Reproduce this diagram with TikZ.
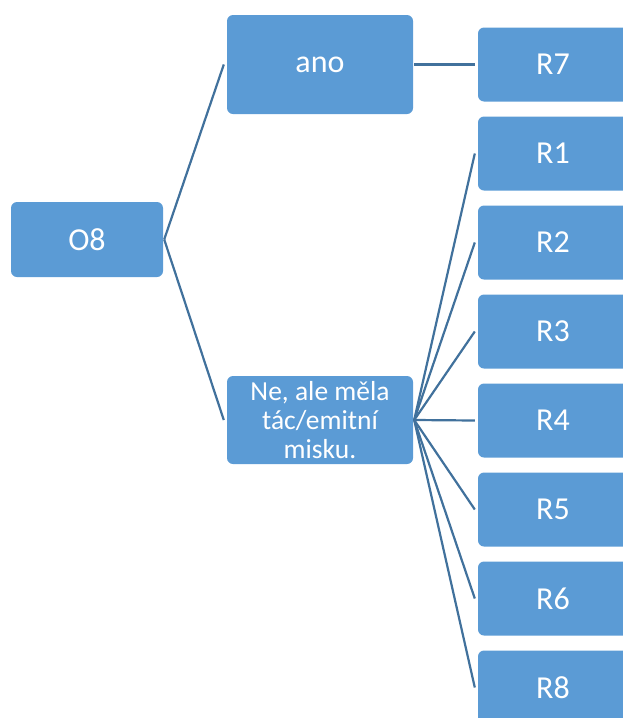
\documentclass[tikz,border=0pt]{standalone}
\usepackage{fontspec}
\setmainfont{Carlito}
\definecolor{boxfill}{HTML}{5B9BD5}
\definecolor{linecol}{HTML}{41719C}
\begin{document}
\begin{tikzpicture}[x=1pt,y=-1pt,
  box/.style={draw=none,fill=boxfill,rounded corners=6pt,inner sep=0pt,text=white,align=center,font=\fontsize{32}{34}\selectfont},
  conn/.style={draw=linecol,line width=2.2pt}]
\useasboundingbox (0,0) rectangle (623,718);
\clip (0,0) rectangle (623,718);
% nodes
\node[box,minimum width=152pt,minimum height=75pt] (o8) at (87,239.5) {O8};
\node[box,minimum width=186pt,minimum height=99pt] (ano) at (320,64.5) {ano};
\node[box,minimum width=186pt,minimum height=88pt,font=\fontsize{27.5}{29}\selectfont] (ne) at (320,420) {Ne, ale měla\\tác/emitní\\misku.};
\foreach \n/\t/\yy in {r7/R7/64.5, r1/R1/153.5, r2/R2/242.5, r3/R3/331.5, r4/R4/420.5, r5/R5/509.5, r6/R6/598.5, r8/R8/687.5}{
  \node[box,minimum width=170pt,minimum height=74pt,text width=150pt] (\n) at (563,\yy) {\hspace*{-20pt}\t};
}
% connectors
\coordinate (anoIn) at ([xshift=-3pt]ano.west);
\coordinate (neIn) at ([xshift=-3pt]ne.west);
\draw[conn] ([xshift=1pt]o8.east) -- (anoIn);
\draw[conn] ([xshift=1pt]o8.east) -- (neIn);
\draw[conn] ([xshift=1pt]ano.east) -- ([xshift=-3pt]r7.west);
\foreach \n in {r1,r2,r3,r4,r5,r6,r8}{
  \draw[conn] ([xshift=1pt]ne.east) -- ([xshift=-3pt]\n.west);
}
\end{tikzpicture}
\end{document}
